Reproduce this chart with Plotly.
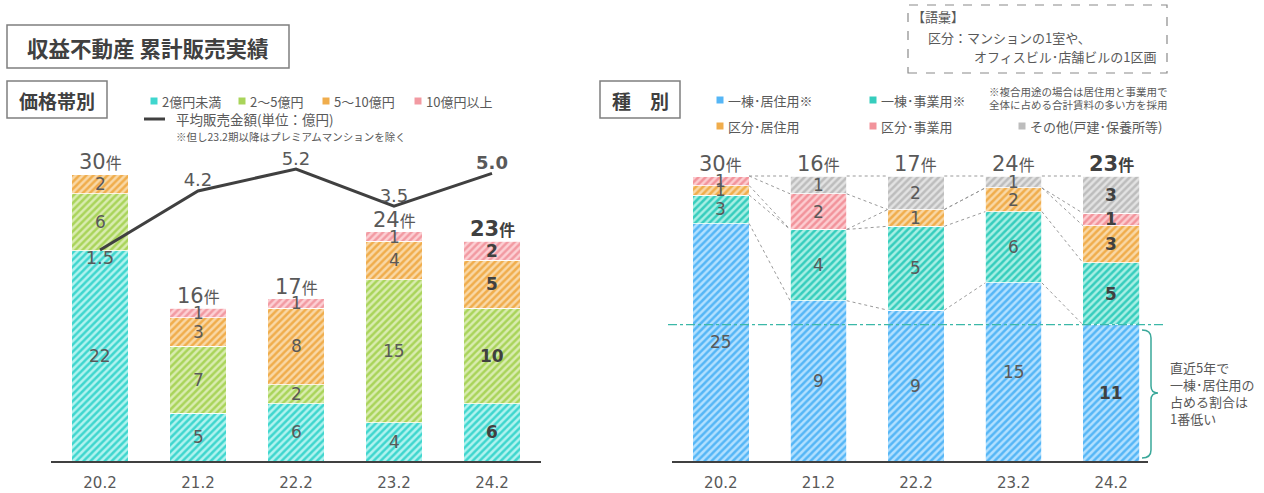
import plotly.graph_objects as go

# ---------------- data ----------------
periods = ["20.2", "21.2", "22.2", "23.2", "24.2"]

price_names = ["2億円未満", "2～5億円", "5～10億円", "10億円以上"]
price_lt2 = [22, 5, 6, 4, 6]
price_2to5 = [6, 7, 2, 15, 10]
price_5to10 = [2, 3, 8, 4, 5]
price_ge10 = [0, 1, 1, 1, 2]
price_series = [price_lt2, price_2to5, price_5to10, price_ge10]

avg_price = [1.5, 4.2, 5.2, 3.5, 5.0]

type_names = ["一棟･居住用※", "一棟･事業用※", "区分･居住用", "区分･事業用", "その他(戸建･保養所等)"]
type_bldg_res = [25, 9, 9, 15, 11]
type_bldg_biz = [3, 4, 5, 6, 5]
type_unit_res = [1, 0, 1, 2, 3]
type_unit_biz = [1, 2, 0, 0, 1]
type_other = [0, 1, 2, 1, 3]
type_series = [type_bldg_res, type_bldg_biz, type_unit_res, type_unit_biz, type_other]

# ---------------- styling ----------------
W, H = 1264, 493
JP = "Noto Sans CJK JP"
NUM = "DejaVu Sans, Noto Sans CJK JP"
TXT = "#595959"
DARK = "#404040"

price_fg = ["#3fd6ce", "#a9d45a", "#f0ad4c", "#f29aa2"]
price_bg = ["#b2f3ef", "#d9ecb0", "#f9d8a6", "#fcd0d4"]
type_fg = ["#55b6f6", "#36cdbd", "#f0ad4c", "#f2939b", "#bdbdbd"]
type_bg = ["#b2e0ff", "#a8efe4", "#f9d8a6", "#fcccd0", "#e2e2e2"]


def px(x):
    return x / W


def py(y):
    return 1 - y / H


BASE = 461
TOP = 140
LEFT_UNIT = 9.55          # px per count
RIGHT_UNIT = 2.85         # px per percent
L2_UNIT = 21.9            # px per 億円
L2_ZERO = 282.9           # px of 0 億円
BW = 0.58

fig = go.Figure()

n = len(periods)
xs = list(range(n))

# ---------- left chart: bars ----------
for k, (name, vals) in enumerate(zip(price_names, price_series)):
    fig.add_trace(go.Bar(
        x=xs, y=vals, name=name, width=BW, xaxis="x", yaxis="y",
        marker=dict(color=price_bg[k], line=dict(color="white", width=0.8),
                    pattern=dict(shape="/", fgcolor=price_fg[k], bgcolor=price_bg[k],
                                 size=5, solidity=0.5, fillmode="replace")),
        hoverinfo="skip", showlegend=False))

# ---------- left chart: line ----------
line_text = [f"{v:.1f}" for v in avg_price]
line_text[-1] = f"<b>{avg_price[-1]:.1f}</b>"
fig.add_trace(go.Scatter(
    x=xs, y=avg_price, xaxis="x", yaxis="y2", mode="lines+text",
    line=dict(color=DARK, width=3), text=line_text,
    textposition=["bottom center"] + ["top center"] * (n - 1),
    textfont=dict(family=NUM, size=18, color=TXT),
    hoverinfo="skip", showlegend=False, cliponaxis=False))

# ---------- right chart: 100% bars ----------
type_totals = [sum(s[i] for s in type_series) for i in range(n)]
type_pct = [[100 * s[i] / type_totals[i] for i in range(n)] for s in type_series]
for k, (name, vals) in enumerate(zip(type_names, type_pct)):
    fig.add_trace(go.Bar(
        x=xs, y=vals, name=name, width=BW, xaxis="x2", yaxis="y3",
        marker=dict(color=type_bg[k], line=dict(color="white", width=0.8),
                    pattern=dict(shape="/", fgcolor=type_fg[k], bgcolor=type_bg[k],
                                 size=5, solidity=0.5, fillmode="replace")),
        hoverinfo="skip", showlegend=False))

# ---------- right chart: connectors ----------
cum = []
for i in range(n):
    c, acc = [], 0
    for s in type_pct:
        acc += s[i]
        c.append(acc)
    cum.append(c)
cx, cy = [], []
for i in range(n - 1):
    for k in range(len(type_series)):
        cx += [i + BW / 2, i + 1 - BW / 2, None]
        cy += [cum[i][k], cum[i + 1][k], None]
fig.add_trace(go.Scatter(
    x=cx, y=cy, xaxis="x2", yaxis="y3", mode="lines",
    line=dict(color="#9a9a9a", width=1, dash="dot"),
    hoverinfo="skip", showlegend=False))

annotations = []
shapes = []


def total_label(i, total, bold, xref, yref, yval):
    num = f"{total}"
    if bold:
        t = f"<b>{num}<span style='font-size:16px'>件</span></b>"
    else:
        t = f"{num}<span style='font-size:16px'>件</span>"
    annotations.append(dict(x=i, y=yval, xref=xref, yref=yref, text=t, showarrow=False,
                            yanchor="bottom", yshift=-2,
                            font=dict(family=NUM, size=21, color=TXT if not bold else DARK)))


# segment labels left
for i in range(n):
    acc = 0
    for s in price_series:
        v = s[i]
        if v > 0:
            bold = (i == n - 1)
            annotations.append(dict(x=i, y=acc + v / 2, xref="x", yref="y",
                                    text=f"<b>{v}</b>" if bold else f"{v}", showarrow=False,
                                    font=dict(family=NUM, size=17, color=DARK if bold else TXT)))
        acc += v
    total = sum(s[i] for s in price_series)
    total_label(i, total, i == n - 1, "x", "y", total)

# segment labels right
for i in range(n):
    acc = 0
    for k, s in enumerate(type_pct):
        v = s[i]
        if type_series[k][i] > 0:
            bold = (i == n - 1)
            cnt = type_series[k][i]
            annotations.append(dict(x=i, y=acc + v / 2, xref="x2", yref="y3",
                                    text=f"<b>{cnt}</b>" if bold else f"{cnt}", showarrow=False,
                                    font=dict(family=NUM, size=17, color=DARK if bold else TXT)))
        acc += v
    total_label(i, type_totals[i], i == n - 1, "x2", "y3", 100)

# ---------- title boxes ----------
def box(x0, y0, x1, y1, dash="solid", color="#7f7f7f", width=1.5):
    shapes.append(dict(type="rect", xref="paper", yref="paper", x0=px(x0), x1=px(x1),
                       y0=py(y1), y1=py(y0), line=dict(color=color, width=width, dash=dash),
                       fillcolor="rgba(0,0,0,0)"))


def text(x, y, t, size, xanchor="left", bold=False, color=TXT, family=JP, align="left"):
    annotations.append(dict(x=px(x), y=py(y), xref="paper", yref="paper",
                            text=f"<b>{t}</b>" if bold else t, showarrow=False,
                            xanchor=xanchor, yanchor="middle", align=align,
                            font=dict(family=family, size=size, color=color)))


box(7, 25, 289, 68)
text(148, 47, "収益不動産 累計販売実績", 21.5, xanchor="center", bold=True, color=DARK)
box(7, 81, 107, 118)
text(57, 100, "価格帯別", 19, xanchor="center", bold=True, color=DARK)
box(600, 81, 680, 118)
text(640, 100, "種　別", 19, xanchor="center", bold=True, color=DARK)

# vocab box
box(908, 5, 1167, 73, dash="dash", color="#8a8a8a", width=1.2)
text(910, 17, "【語彙】", 13)
text(926, 38, "区分：マンションの1室や、", 13)
text(972, 57, "オフィスビル･店舗ビルの1区画", 13)

# ---------- legends ----------
def marker(x, y, color):
    shapes.append(dict(type="rect", xref="paper", yref="paper", x0=px(x - 3.5), x1=px(x + 3.5),
                       y0=py(y + 3.5), y1=py(y - 3.5), line=dict(width=0), fillcolor=color))


left_leg_x = [154, 242, 326, 418]
for k, name in enumerate(price_names):
    marker(left_leg_x[k], 101, price_fg[k])
    text(left_leg_x[k] + 6, 101, name, 13)
shapes.append(dict(type="line", xref="paper", yref="paper", x0=px(144), x1=px(165),
                   y0=py(119), y1=py(119), line=dict(color=DARK, width=3)))
text(174, 119, "平均販売金額(単位：億円)", 13.5)
text(174, 136, "※但し23.2期以降はプレミアムマンションを除く", 10.5)

right_leg = [(720, 100), (873, 100), (720, 126), (873, 126), (1022, 126)]
for k, name in enumerate(type_names):
    x, y = right_leg[k]
    marker(x, y, type_fg[k])
    text(x + 6, y, name, 13)
text(1170, 92, "※複合用途の場合は居住用と事業用で", 10.5, xanchor="right")
text(1170, 105, "全体に占める合計賃料の多い方を採用", 10.5, xanchor="right")

# ---------- dash-dot reference line ----------
ref_pct = 100 * type_bldg_res[-1] / type_totals[-1]
shapes.append(dict(type="line", xref="paper", yref="y3", x0=px(668), x1=px(1165),
                   y0=ref_pct, y1=ref_pct, line=dict(color="#3cb8a8", width=1.2, dash="dashdot")))

# ---------- bracket ----------
def P(x, y):
    return f"{px(x):.5f},{py(y):.5f}"


path = (f"M {P(1142, 330)} Q {P(1151, 330)} {P(1151, 338)} L {P(1151, 386)} "
        f"Q {P(1151, 393)} {P(1158, 393)} Q {P(1151, 393)} {P(1151, 400)} "
        f"L {P(1151, 450)} Q {P(1151, 458)} {P(1142, 458)}")
shapes.append(dict(type="path", xref="paper", yref="paper", path=path,
                   line=dict(color="#3aa89a", width=1.5)))
text(1168, 393, "直近5年で<br>一棟･居住用の<br>占める割合は<br>1番低い", 13)

# ---------- layout ----------
ydom = [py(BASE), py(TOP)]
left_top = (BASE - TOP) / LEFT_UNIT
y2_lo = -(BASE - L2_ZERO) / L2_UNIT
y2_hi = (L2_ZERO - TOP) / L2_UNIT
right_top = (BASE - TOP) / RIGHT_UNIT
right_hi = -0.5 + (1148 - 672) / 97.6

axis_common = dict(showgrid=False, zeroline=False, ticks="", showline=True,
                   linecolor=DARK, linewidth=1.5,
                   tickfont=dict(family=NUM, size=15, color=TXT),
                   tickmode="array", tickvals=xs, ticktext=periods,
                   ticklabelstandoff=7, fixedrange=True)

fig.update_layout(
    width=W, height=H, margin=dict(l=0, r=0, t=0, b=0),
    paper_bgcolor="white", plot_bgcolor="white",
    barmode="stack", showlegend=False,
    xaxis=dict(domain=[px(51), px(541)], range=[-0.5, 4.5], anchor="y", **axis_common),
    yaxis=dict(domain=ydom, range=[0, left_top], visible=False, fixedrange=True),
    yaxis2=dict(overlaying="y", range=[y2_lo, y2_hi], visible=False, fixedrange=True),
    xaxis2=dict(domain=[px(672), px(1148)], range=[-0.5, right_hi], anchor="y3", **axis_common),
    yaxis3=dict(domain=ydom, range=[0, right_top], visible=False, anchor="x2", fixedrange=True),
    annotations=annotations, shapes=shapes,
)

fig.write_html("out.html")
